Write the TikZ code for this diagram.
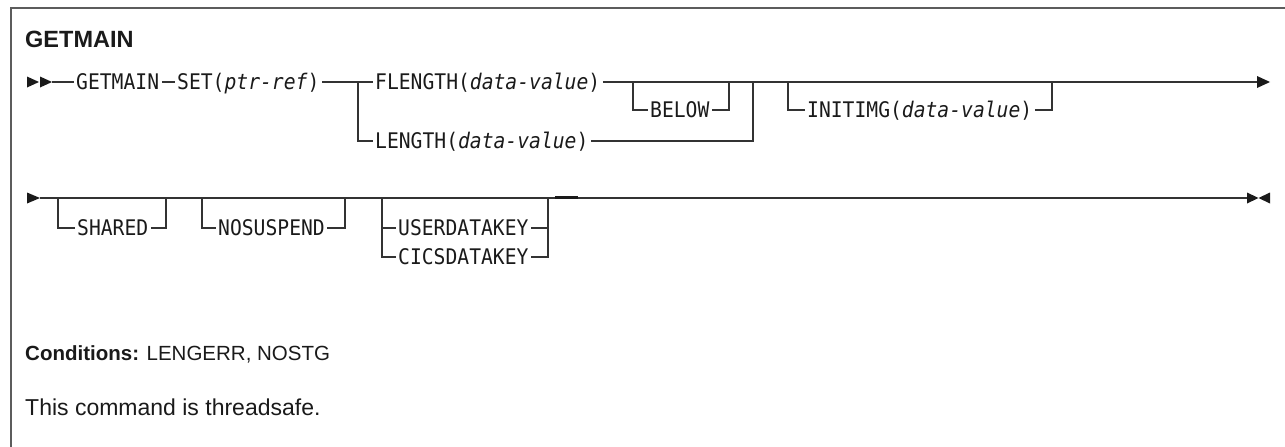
\documentclass[tikz,border=0pt]{standalone}
\usepackage{fontspec}
\setmainfont{Liberation Sans}
\newfontfamily\synfont[FakeStretch=0.915]{DejaVu Sans Mono}
\definecolor{ln}{HTML}{333333}
\definecolor{tx}{HTML}{1A1A1A}
\begin{document}
\begin{tikzpicture}[x=1pt,y=-1pt,
  syn/.style={inner xsep=2.5pt,inner ysep=0pt,text height=15.5pt,text depth=0pt,anchor=west,
    font=\synfont\fontsize{21.5pt}{24pt}\selectfont,text=tx},
  conn/.style={draw=ln,line width=1.3pt},
  tipfill/.style={fill=tx,draw=none},
  frame/.style={draw=ln!80,line width=1.5pt}]
\useasboundingbox (0,0) rectangle (1285,447);
% frame
\draw[frame] (1285,8) -- (11,8) -- (11,447);
% title and notes
\node[anchor=base west,inner sep=0pt,text=tx,font=\bfseries\fontsize{23.5pt}{28pt}\selectfont] (title) at (25,47) {GETMAIN};
\node[anchor=base west,inner sep=0pt,text=tx,font=\fontsize{20.5pt}{24pt}\selectfont] (cond) at (25,360) {\textbf{Conditions:} LENGERR, NOSTG};
\node[anchor=base west,inner sep=0pt,text=tx,font=\fontsize{23pt}{27pt}\selectfont] (safe) at (25,415) {This command is threadsafe.};
% ---- row 1
\def\ya{82}
\coordinate (s0) at (52,\ya);
\fill[tipfill] (27,\ya-5.5) -- (39,\ya) -- (27,\ya+5.5) -- cycle;
\fill[tipfill] (40,\ya-5.5) -- (52,\ya) -- (40,\ya+5.5) -- cycle;
\node[syn] (getmain) at (73.5,\ya) {GETMAIN};
\node[syn] (set) at (174.5,\ya) {SET(\textit{ptr-ref})};
\coordinate (j1) at (358,\ya);
\node[syn] (flength) at (372.5,\ya) {FLENGTH(\textit{data-value})};
\node[syn] (length) at (372.5,141) {LENGTH(\textit{data-value})};
\coordinate (b1) at (633,\ya);
\node[syn] (below) at (647.5,110) {BELOW};
\coordinate (b2) at (729,\ya);
\coordinate (j2) at (753,\ya);
\coordinate (i1) at (788,\ya);
\node[syn] (initimg) at (804.5,110) {INITIMG(\textit{data-value})};
\coordinate (i2) at (1052,\ya);
\coordinate (e1) at (1257,\ya);
\fill[tipfill] (1257,\ya-6) -- (1270,\ya) -- (1257,\ya+6) -- cycle;
\draw[conn] (s0) -- (getmain.west);
\draw[conn] (getmain.east) -- (set.west);
\draw[conn] (set.east) -- (flength.west);
\draw[conn] (j1) |- (length.west);
\draw[conn] (length.east) -| (j2);
\draw[conn] (flength.east) -- (e1);
\draw[conn] (b1) |- (below.west);
\draw[conn] (below.east) -| (b2);
\draw[conn] (i1) |- (initimg.west);
\draw[conn] (initimg.east) -| (i2);
% ---- row 2
\def\yb{198}
\fill[tipfill] (27,\yb-5.5) -- (40,\yb) -- (27,\yb+5.5) -- cycle;
\coordinate (s1) at (40,\yb);
\coordinate (h1) at (58,\yb);
\node[syn] (shared) at (74.5,228) {SHARED};
\coordinate (h2) at (166,\yb);
\coordinate (n1) at (202,\yb);
\node[syn] (nosusp) at (215.5,228) {NOSUSPEND};
\coordinate (n2) at (345,\yb);
\coordinate (u1) at (382,\yb);
\node[syn] (user) at (395.5,228) {USERDATAKEY};
\node[syn] (cics) at (395.5,257) {CICSDATAKEY};
\coordinate (u2) at (548,\yb);
\coordinate (t1) at (555,\yb-0.6);
\coordinate (t2) at (578,\yb-0.6);
\coordinate (e2) at (1247,\yb);
\fill[tipfill] (1247,\yb-5.5) -- (1258.5,\yb) -- (1247,\yb+5.5) -- cycle;
\fill[tipfill] (1270,\yb-5.5) -- (1258.5,\yb) -- (1270,\yb+5.5) -- cycle;
\draw[conn] (s1) -- (e2);
\draw[conn] (h1) |- (shared.west);
\draw[conn] (shared.east) -| (h2);
\draw[conn] (n1) |- (nosusp.west);
\draw[conn] (nosusp.east) -| (n2);
\draw[conn] (u1) |- (cics.west);
\draw[conn] (user.west) -- (user.west -| u1);
\draw[conn] (cics.east) -| (u2);
\draw[conn] (user.east) -- (user.east -| u2);
\draw[draw=tx,line width=2.4pt] (t1) -- (t2);
\end{tikzpicture}
\end{document}
